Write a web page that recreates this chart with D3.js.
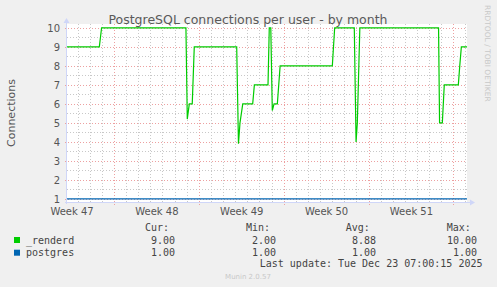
<!DOCTYPE html>
<html><head><meta charset="utf-8">
<script src="https://cdn.jsdelivr.net/npm/d3@7"></script>
<style>
html,body{margin:0;padding:0;background:#f0f0f0;}
svg{display:block;}
</style></head>
<body>
<script>
// ---- data ----
const title = "PostgreSQL connections per user - by month";
const yLabel = "Connections";
const timeDomain = ["2025-11-20T03:00:00Z", "2025-12-23T03:00:00Z"];
const yTicks = [1,2,3,4,5,6,7,8,9,10];
const weekStarts = ["2025-11-17","2025-11-24","2025-12-01","2025-12-08","2025-12-15","2025-12-22"];
const weekLabels = ["Week 47","Week 48","Week 49","Week 50","Week 51","Week 52"];

const renderdTimes = [
 "2025-11-20T03:00","2025-11-22T19:00","2025-11-22T23:30","2025-11-29T22:30","2025-11-30T01:10",
 "2025-11-30T05:10","2025-11-30T11:00","2025-11-30T15:00","2025-12-04T03:00","2025-12-04T06:30",
 "2025-12-04T09:30","2025-12-04T15:00","2025-12-05T10:40","2025-12-05T14:00","2025-12-06T17:00",
 "2025-12-06T19:30","2025-12-06T22:30","2025-12-07T01:30","2025-12-07T05:00","2025-12-07T11:30",
 "2025-12-07T17:00","2025-12-12T00:20","2025-12-12T05:00","2025-12-13T19:50","2025-12-13T23:20",
 "2025-12-14T01:50","2025-12-14T06:50","2025-12-20T18:40","2025-12-20T20:40","2025-12-21T02:10",
 "2025-12-21T06:00","2025-12-22T09:50","2025-12-22T12:40","2025-12-22T15:50","2025-12-23T03:00"];
const renderdValues = [
 9,9,10,10,5.2,
 6,6,9,9,3.9,
 5,6,6,7,7,
 10,10,5.65,6,6,
 8,8,10,10,4,
 5,10,10,5,5,
 7,7,8,9,9];
const postgresTimes = ["2025-11-20T03:00","2025-12-23T03:00"];
const postgresValues = [1,1];

const seriesNames = ["_renderd","postgres"];
const seriesColors = ["#00cc00","#0066b3"];
const curVals = ["9.00","1.00"];
const minVals = ["2.00","1.00"];
const avgVals = ["8.88","1.00"];
const maxVals = ["10.00","1.00"];
const lastUpdate = "Last update: Tue Dec 23 07:00:15 2025";
const muninVersion = "Munin 2.0.57";
const rrdCredit = "RRDTOOL / TOBI OETIKER";

// ---- drawing ----
(function(){
const W = 497, H = 287;
const svg = d3.select("body").append("svg").attr("width", W).attr("height", H);
svg.append("rect").attr("width", W).attr("height", H).attr("fill", "#f0f0f0");

const parseT = s => new Date(s.endsWith("Z") ? s : s + "Z");
const x = d3.scaleUtc().domain(timeDomain.map(parseT)).range([67, 467]);
const y = d3.scaleLinear().domain([0.84, 10.2]).range([202, 24]);

const pL = x.range()[0], pR = x.range()[1];
const pT = y.range()[1], pB = y.range()[0];

svg.append("rect").attr("x", pL).attr("y", pT).attr("width", pR-pL).attr("height", pB-pT).attr("fill", "#ffffff");

const grid = svg.append("g");
const minorY = [yTicks[0] - 0.5].concat(yTicks.map(v => v + 0.5));
minorY.filter(v => y(v) > pT && y(v) < pB).forEach(v => {
  grid.append("line").attr("x1", pL).attr("x2", pR).attr("y1", Math.round(y(v))+0.5).attr("y2", Math.round(y(v))+0.5)
    .attr("stroke", "#c8c8c8").attr("stroke-width", 1).attr("stroke-dasharray", "1,2");
});
const days = d3.utcDay.range(x.domain()[0], x.domain()[1]).filter(d => x(d) > pL);
days.forEach(d => {
  const xx = Math.round(x(d))+0.5;
  grid.append("line").attr("x1", xx).attr("x2", xx).attr("y1", pT).attr("y2", pB+2)
    .attr("stroke", "#c8c8c8").attr("stroke-width", 1).attr("stroke-dasharray", "1,2");
});
yTicks.forEach(v => {
  grid.append("line").attr("x1", pL-2).attr("x2", pR).attr("y1", Math.round(y(v))+0.5).attr("y2", Math.round(y(v))+0.5)
    .attr("stroke", "#eda0a0").attr("stroke-width", 1).attr("stroke-dasharray", "1,2");
});
weekStarts.map(parseT).filter(d => x(d) > pL && x(d) < pR).forEach(d => {
  const xx = Math.round(x(d))+0.5;
  grid.append("line").attr("x1", xx).attr("x2", xx).attr("y1", pT).attr("y2", pB+3)
    .attr("stroke", "#eda0a0").attr("stroke-width", 1).attr("stroke-dasharray", "1,2");
});

const yAxis = d3.axisLeft(y).tickValues(yTicks).tickSize(0).tickPadding(0).tickFormat(d3.format("d"));
const gy = svg.append("g").attr("transform", `translate(${pL-7},0)`).call(yAxis);
gy.select(".domain").remove();
gy.selectAll("text").attr("font-family", "DejaVu Sans").attr("font-size", "10px").attr("fill", "#555555").attr("dy", "0.36em");

const labelTimes = weekStarts.map(s => new Date(parseT(s).getTime() + 3.5*86400000));
const xAxis = d3.axisBottom(x)
  .tickValues(labelTimes.filter(d => x(d) >= pL && x(d) <= pR))
  .tickSize(0).tickPadding(0)
  .tickFormat(d => weekLabels[labelTimes.findIndex(t => t.getTime() === d.getTime())]);
const gx = svg.append("g").attr("transform", `translate(0,${pB+6})`).call(xAxis);
gx.select(".domain").remove();
gx.selectAll("text").attr("font-family", "DejaVu Sans").attr("font-size", "10px").attr("fill", "#555555").attr("dy", "0.71em");

const line = d3.line().x(d => x(d[0])).y(d => y(d[1]));
const renderdData = renderdTimes.map((t, i) => [parseT(t), renderdValues[i]]);
const postgresData = postgresTimes.map((t, i) => [parseT(t), postgresValues[i]]);
svg.append("path").datum(renderdData).attr("d", line).attr("fill", "none")
  .attr("stroke", seriesColors[0]).attr("stroke-width", 1.2);
svg.append("path").datum(postgresData).attr("d", line).attr("fill", "none")
  .attr("stroke", seriesColors[1]).attr("stroke-width", 1.2);

const axisCol = "#cfd6f8";
svg.append("line").attr("x1", pL-0.5).attr("x2", pL-0.5).attr("y1", pB+2).attr("y2", pT-2).attr("stroke", axisCol);
svg.append("line").attr("x1", pL-2).attr("x2", pR+3).attr("y1", pB+0.5).attr("y2", pB+0.5).attr("stroke", axisCol);
svg.append("path").attr("d", `M${pL-3.5},${pT-1} L${pL+2.5},${pT-1} L${pL-0.5},${pT-6} Z`).attr("fill", axisCol);
svg.append("path").attr("d", `M${pR+3},${pB-2.5} L${pR+3},${pB+3.5} L${pR+8},${pB+0.5} Z`).attr("fill", axisCol);

svg.append("text").attr("x", 248).attr("y", 24).attr("text-anchor", "middle")
  .attr("font-family", "DejaVu Sans").attr("font-size", "12.5px").attr("fill", "#5a5a5a").text(title);

svg.append("text").attr("transform", `translate(15,${(pT+pB)/2}) rotate(-90)`).attr("text-anchor", "middle")
  .attr("font-family", "DejaVu Sans").attr("font-size", "11px").attr("fill", "#555555").text(yLabel);

svg.append("text").attr("transform", "translate(485,5) rotate(90)")
  .attr("font-family", "DejaVu Sans").attr("font-size", "7.5px").attr("fill", "#c8c8c8").text(rrdCredit);

const mono = "DejaVu Sans Mono";
const leg = svg.append("g").attr("font-family", mono).attr("font-size", "10px").attr("fill", "#444444");
const hdrY = 231;
leg.append("text").attr("x", 145).attr("y", hdrY).text("Cur:");
leg.append("text").attr("x", 246).attr("y", hdrY).text("Min:");
leg.append("text").attr("x", 345.7).attr("y", hdrY).text("Avg:");
leg.append("text").attr("x", 446.7).attr("y", hdrY).text("Max:");
const colRight = [175, 276, 376, 477];
seriesNames.forEach((n, i) => {
  const by = 243.5 + i*12.7;
  svg.append("rect").attr("x", 14).attr("y", by-6.5).attr("width", 6).attr("height", 6).attr("fill", seriesColors[i]);
  leg.append("text").attr("x", 26).attr("y", by).text(n);
  [curVals, minVals, avgVals, maxVals].forEach((arr, j) => {
    leg.append("text").attr("x", colRight[j]).attr("y", by).attr("text-anchor", "end").text(arr[i]);
  });
});
leg.append("text").attr("x", 482.5).attr("y", 267).attr("text-anchor", "end").text(lastUpdate);
svg.append("text").attr("x", 248).attr("y", 279).attr("text-anchor", "middle")
  .attr("font-family", "DejaVu Sans").attr("font-size", "7px").attr("fill", "#c8c8c8").text(muninVersion);
})();
</script>
</body></html>
